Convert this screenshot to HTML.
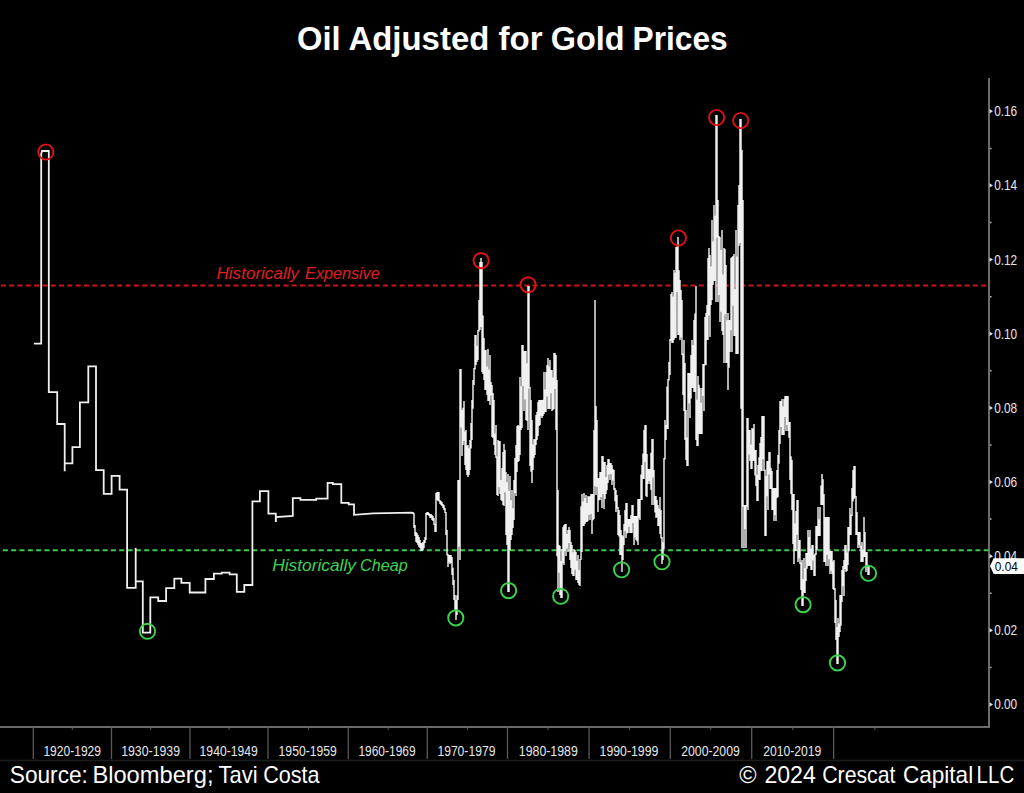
<!DOCTYPE html><html><head><meta charset="utf-8"><style>html,body{margin:0;padding:0;background:#000;width:1024px;height:793px;overflow:hidden}svg{display:block}text{font-family:"Liberation Sans",sans-serif}</style></head><body>
<svg width="1024" height="793" viewBox="0 0 1024 793">
<rect width="1024" height="793" fill="#000"/>
<text x="297.1" y="50.2" font-size="34" font-weight="bold" fill="#fff" textLength="43.6" lengthAdjust="spacingAndGlyphs">Oil</text>
<text x="348.5" y="50.2" font-size="34" font-weight="bold" fill="#fff" textLength="140.8" lengthAdjust="spacingAndGlyphs">Adjusted</text>
<text x="498.5" y="50.2" font-size="34" font-weight="bold" fill="#fff" textLength="44.0" lengthAdjust="spacingAndGlyphs">for</text>
<text x="550.7" y="50.2" font-size="34" font-weight="bold" fill="#fff" textLength="73.8" lengthAdjust="spacingAndGlyphs">Gold</text>
<text x="632.5" y="50.2" font-size="34" font-weight="bold" fill="#fff" textLength="95.2" lengthAdjust="spacingAndGlyphs">Prices</text>
<line x1="989" y1="78" x2="989" y2="727" stroke="#6a6a6a" stroke-width="2"/>
<line x1="0" y1="727" x2="990" y2="727" stroke="#6a6a6a" stroke-width="2"/>
<line x1="0" y1="760.5" x2="1024" y2="760.5" stroke="#1c1c1c" stroke-width="1.5"/>
<line x1="33.3" y1="727" x2="33.3" y2="759" stroke="#5a5a5a" stroke-width="1.3"/>
<line x1="111.5" y1="727" x2="111.5" y2="759" stroke="#5a5a5a" stroke-width="1.3"/>
<line x1="190" y1="727" x2="190" y2="759" stroke="#5a5a5a" stroke-width="1.3"/>
<line x1="268" y1="727" x2="268" y2="759" stroke="#5a5a5a" stroke-width="1.3"/>
<line x1="348.3" y1="727" x2="348.3" y2="759" stroke="#5a5a5a" stroke-width="1.3"/>
<line x1="427.3" y1="727" x2="427.3" y2="759" stroke="#5a5a5a" stroke-width="1.3"/>
<line x1="507.5" y1="727" x2="507.5" y2="759" stroke="#5a5a5a" stroke-width="1.3"/>
<line x1="589" y1="727" x2="589" y2="759" stroke="#5a5a5a" stroke-width="1.3"/>
<line x1="670.3" y1="727" x2="670.3" y2="759" stroke="#5a5a5a" stroke-width="1.3"/>
<line x1="751.7" y1="727" x2="751.7" y2="759" stroke="#5a5a5a" stroke-width="1.3"/>
<line x1="833.6" y1="727" x2="833.6" y2="759" stroke="#5a5a5a" stroke-width="1.3"/>
<line x1="72.3" y1="727" x2="72.3" y2="730" stroke="#5a5a5a" stroke-width="1"/>
<line x1="150.7" y1="727" x2="150.7" y2="730" stroke="#5a5a5a" stroke-width="1"/>
<line x1="229.1" y1="727" x2="229.1" y2="730" stroke="#5a5a5a" stroke-width="1"/>
<line x1="308.5" y1="727" x2="308.5" y2="730" stroke="#5a5a5a" stroke-width="1"/>
<line x1="388.2" y1="727" x2="388.2" y2="730" stroke="#5a5a5a" stroke-width="1"/>
<line x1="467.5" y1="727" x2="467.5" y2="730" stroke="#5a5a5a" stroke-width="1"/>
<line x1="548.1" y1="727" x2="548.1" y2="730" stroke="#5a5a5a" stroke-width="1"/>
<line x1="629.5" y1="727" x2="629.5" y2="730" stroke="#5a5a5a" stroke-width="1"/>
<line x1="710.8" y1="727" x2="710.8" y2="730" stroke="#5a5a5a" stroke-width="1"/>
<line x1="792.8" y1="727" x2="792.8" y2="730" stroke="#5a5a5a" stroke-width="1"/>
<line x1="874.8" y1="727" x2="874.8" y2="730" stroke="#5a5a5a" stroke-width="1"/>
<text x="43.4" y="756.2" font-size="14.2" fill="#e6e6e6" textLength="57.6" lengthAdjust="spacingAndGlyphs">1920-1929</text>
<text x="121.2" y="756.2" font-size="14.2" fill="#e6e6e6" textLength="58.8" lengthAdjust="spacingAndGlyphs">1930-1939</text>
<text x="199.6" y="756.2" font-size="14.2" fill="#e6e6e6" textLength="58.2" lengthAdjust="spacingAndGlyphs">1940-1949</text>
<text x="278.6" y="756.2" font-size="14.2" fill="#e6e6e6" textLength="58.2" lengthAdjust="spacingAndGlyphs">1950-1959</text>
<text x="358.4" y="756.2" font-size="14.2" fill="#e6e6e6" textLength="57.2" lengthAdjust="spacingAndGlyphs">1960-1969</text>
<text x="437.4" y="756.2" font-size="14.2" fill="#e6e6e6" textLength="58.0" lengthAdjust="spacingAndGlyphs">1970-1979</text>
<text x="518.8" y="756.2" font-size="14.2" fill="#e6e6e6" textLength="59.0" lengthAdjust="spacingAndGlyphs">1980-1989</text>
<text x="599.6" y="756.2" font-size="14.2" fill="#e6e6e6" textLength="58.8" lengthAdjust="spacingAndGlyphs">1990-1999</text>
<text x="681.2" y="756.2" font-size="14.2" fill="#e6e6e6" textLength="58.6" lengthAdjust="spacingAndGlyphs">2000-2009</text>
<text x="763.2" y="756.2" font-size="14.2" fill="#e6e6e6" textLength="58.2" lengthAdjust="spacingAndGlyphs">2010-2019</text>
<path d="M989.5 702.3 L993 704.5 L989.5 706.7Z" fill="#ddd"/>
<text x="994.2" y="709.4" font-size="14.2" fill="#e6e6e6" textLength="23" lengthAdjust="spacingAndGlyphs">0.00</text>
<path d="M989.5 628.1 L993 630.4 L989.5 632.6Z" fill="#ddd"/>
<text x="994.2" y="635.2" font-size="14.2" fill="#e6e6e6" textLength="23" lengthAdjust="spacingAndGlyphs">0.02</text>
<path d="M989.5 554.0 L993 556.2 L989.5 558.4Z" fill="#ddd"/>
<text x="994.2" y="561.1" font-size="14.2" fill="#e6e6e6" textLength="23" lengthAdjust="spacingAndGlyphs">0.04</text>
<path d="M989.5 479.9 L993 482.1 L989.5 484.2Z" fill="#ddd"/>
<text x="994.2" y="486.9" font-size="14.2" fill="#e6e6e6" textLength="23" lengthAdjust="spacingAndGlyphs">0.06</text>
<path d="M989.5 405.7 L993 407.9 L989.5 410.1Z" fill="#ddd"/>
<text x="994.2" y="412.8" font-size="14.2" fill="#e6e6e6" textLength="23" lengthAdjust="spacingAndGlyphs">0.08</text>
<path d="M989.5 331.6 L993 333.8 L989.5 335.9Z" fill="#ddd"/>
<text x="994.2" y="338.6" font-size="14.2" fill="#e6e6e6" textLength="23" lengthAdjust="spacingAndGlyphs">0.10</text>
<path d="M989.5 257.4 L993 259.6 L989.5 261.8Z" fill="#ddd"/>
<text x="994.2" y="264.5" font-size="14.2" fill="#e6e6e6" textLength="23" lengthAdjust="spacingAndGlyphs">0.12</text>
<path d="M989.5 183.2 L993 185.4 L989.5 187.6Z" fill="#ddd"/>
<text x="994.2" y="190.3" font-size="14.2" fill="#e6e6e6" textLength="23" lengthAdjust="spacingAndGlyphs">0.14</text>
<path d="M989.5 109.1 L993 111.3 L989.5 113.5Z" fill="#ddd"/>
<text x="994.2" y="116.2" font-size="14.2" fill="#e6e6e6" textLength="23" lengthAdjust="spacingAndGlyphs">0.16</text>
<line x1="990" y1="667.4" x2="991.5" y2="667.4" stroke="#bbb" stroke-width="1.5"/>
<line x1="990" y1="593.3" x2="991.5" y2="593.3" stroke="#bbb" stroke-width="1.5"/>
<line x1="990" y1="519.1" x2="991.5" y2="519.1" stroke="#bbb" stroke-width="1.5"/>
<line x1="990" y1="445.0" x2="991.5" y2="445.0" stroke="#bbb" stroke-width="1.5"/>
<line x1="990" y1="370.8" x2="991.5" y2="370.8" stroke="#bbb" stroke-width="1.5"/>
<line x1="990" y1="296.7" x2="991.5" y2="296.7" stroke="#bbb" stroke-width="1.5"/>
<line x1="990" y1="222.5" x2="991.5" y2="222.5" stroke="#bbb" stroke-width="1.5"/>
<line x1="990" y1="148.4" x2="991.5" y2="148.4" stroke="#bbb" stroke-width="1.5"/>
<line x1="0.9" y1="285.4" x2="987" y2="285.4" stroke="#cc1616" stroke-width="2" stroke-dasharray="5 3.308"/>
<line x1="2.9" y1="550.2" x2="989.5" y2="550.2" stroke="#3ec850" stroke-width="2" stroke-dasharray="5 3.312"/>
<text x="216.5" y="278.7" font-size="16.8" font-style="italic" fill="#e01e1e" textLength="82.5" lengthAdjust="spacingAndGlyphs">Historically</text>
<text x="305.1" y="278.7" font-size="16.8" font-style="italic" fill="#e01e1e" textLength="74.6" lengthAdjust="spacingAndGlyphs">Expensive</text>
<text x="272.2" y="570.6" font-size="16.8" font-style="italic" fill="#3ed250" textLength="83.8" lengthAdjust="spacingAndGlyphs">Historically</text>
<text x="360.1" y="570.6" font-size="16.8" font-style="italic" fill="#3ed250" textLength="47.6" lengthAdjust="spacingAndGlyphs">Cheap</text>
<path d="M33.9 343.6 L41.2 343.6 L41.2 154.0 L42.0 151.0 L48.8 151.0 L48.8 392.2 L57.2 392.2 L57.2 424.0 L64.7 424.0 L64.7 471.3 L64.7 463.4 L72.4 463.4 L72.4 447.1 L79.9 447.1 L79.9 402.4 L88.3 402.4 L88.3 366.3 L96.0 366.3 L96.0 470.2 L103.7 470.2 L103.7 493.8 L111.6 493.8 L111.6 475.9 L119.6 475.9 L119.6 489.6 L127.1 489.6 L127.1 587.8 L135.7 587.8 L135.7 548.1 L135.7 581.4 L142.8 581.4 L142.8 632.6 L150.3 632.6 L150.3 597.4 L158.2 597.4 L158.2 601.0 L166.1 601.0 L166.1 588.2 L174.3 588.2 L174.3 578.6 L181.4 578.6 L181.4 582.9 L189.7 582.9 L189.7 592.5 L205.4 592.5 L205.4 579.0 L213.9 579.0 L213.9 573.6 L221.8 573.6 L221.8 572.6 L229.6 572.6 L229.6 574.3 L236.8 574.3 L236.8 591.9 L244.3 591.9 L244.3 585.0 L252.4 585.0 L252.4 501.3 L259.9 501.3 L259.9 491.1 L268.4 491.1 L268.4 513.6 L275.8 513.6 L275.8 521.9 L276.0 517.1 L292.8 516.0 L292.8 498.1 L300.4 498.1 L300.4 499.9 L316.2 499.9 L316.2 498.6 L327.6 498.6 L327.6 482.8 L332.9 482.8 L332.9 484.1 L341.3 484.1 L341.3 502.9 L348.7 502.9 L348.7 504.3 L354.0 504.3 L354.0 514.8 L373.3 513.3 L412.0 512.7 L413.8 513.6" fill="none" stroke="#f0f0f0" stroke-width="1.8" stroke-linejoin="miter" stroke-miterlimit="2"/>
<path d="M413.0 512.0V514.0 M414.0 513.0V528.0 M415.0 525.0V536.1 M416.0 532.0V542.0 M417.0 533.0V543.0 M418.0 535.0V545.0 M419.0 537.0V547.0 M420.0 540.0V548.0 M421.0 543.0V551.0 M422.0 543.0V551.0 M423.0 542.0V550.0 M424.0 540.0V548.0 M425.0 537.0V543.0 M426.0 513.0V540.0 M427.0 512.0V515.0 M428.0 512.0V515.0 M429.0 513.0V516.0 M430.0 514.0V518.0 M431.0 514.0V518.0 M432.0 515.0V520.0 M433.0 516.0V521.0 M434.0 518.0V525.0 M435.0 523.5V532.0 M436.0 493.0V532.0 M437.0 492.0V500.0 M438.0 492.0V501.0 M439.0 492.0V501.5 M440.0 500.0V504.0 M441.0 501.0V505.0 M442.0 502.0V506.0 M443.0 504.0V508.0 M444.0 505.0V510.0 M445.0 508.0V513.0 M446.0 512.0V535.0 M447.0 530.0V555.5 M448.0 554.0V567.0 M449.0 555.0V562.5 M450.0 555.0V564.0 M451.0 555.0V563.0 M452.0 557.0V575.0 M453.0 567.7V585.0 M454.0 580.0V600.0 M455.0 595.0V609.8 M456.0 600.0V620.0 M457.0 595.3V615.0 M458.0 480.0V600.0 M459.0 480.0V546.7 M460.0 369.0V560.0 M461.0 369.0V427.4 M462.0 410.0V456.0 M463.0 407.8V445.0 M464.0 401.0V441.0 M465.0 431.4V465.0 M466.0 430.0V470.0 M467.0 445.8V475.0 M468.0 445.0V477.0 M469.0 448.3V475.0 M470.0 440.0V470.0 M471.0 423.0V448.4 M472.0 400.0V440.0 M473.0 380.0V408.7 M474.0 368.0V385.0 M475.0 335.0V369.5 M476.0 335.0V365.0 M477.0 345.7V362.0 M478.0 330.0V360.0 M479.0 300.0V331.5 M480.0 262.0V330.0 M481.0 258.0V327.1 M482.0 262.0V372.0 M483.0 315.6V374.0 M484.0 338.0V380.0 M485.0 350.1V390.0 M486.0 350.0V390.0 M487.0 366.6V395.0 M488.0 349.0V401.0 M489.0 369.6V401.0 M490.0 355.0V405.0 M491.0 382.0V395.6 M492.0 385.0V437.0 M493.0 393.0V438.0 M494.0 400.0V445.0 M495.0 433.5V455.0 M496.0 425.0V458.0 M497.0 456.5V495.0 M498.0 440.0V496.0 M499.0 441.0V487.3 M500.0 441.0V494.0 M501.0 479.9V500.0 M502.0 468.0V501.0 M503.0 452.0V505.0 M504.0 444.0V506.0 M505.0 450.0V492.2 M506.0 472.0V535.0 M507.0 482.3V545.0 M508.0 474.0V592.0 M509.0 490.8V592.0 M510.0 476.0V550.0 M511.0 500.3V540.0 M512.0 490.0V535.0 M513.0 508.3V528.0 M514.0 480.0V520.0 M515.0 458.0V493.0 M516.0 445.0V496.0 M517.0 426.0V472.1 M518.0 425.0V462.0 M519.0 425.8V461.0 M520.0 377.0V455.0 M521.0 386.2V430.0 M522.0 345.0V428.0 M523.0 345.0V385.9 M524.0 351.0V411.0 M525.0 351.0V399.4 M526.0 351.0V420.0 M527.0 363.2V421.0 M528.0 286.0V430.0 M529.0 286.0V388.5 M530.0 387.0V466.0 M531.0 400.0V471.8 M532.0 420.0V483.0 M533.0 444.4V470.0 M534.0 439.0V458.0 M535.0 439.3V455.0 M536.0 415.0V445.0 M537.0 412.1V440.0 M538.0 402.0V436.0 M539.0 400.0V426.1 M540.0 400.0V425.0 M541.0 400.0V416.3 M542.0 400.0V418.0 M543.0 399.8V416.0 M544.0 372.0V414.0 M545.0 389.4V412.0 M546.0 372.0V412.0 M547.0 365.0V396.5 M548.0 358.0V409.0 M549.0 366.4V409.0 M550.0 360.0V409.0 M551.0 370.0V393.3 M552.0 370.0V411.0 M553.0 377.5V410.0 M554.0 353.0V409.0 M555.0 353.0V388.9 M556.0 355.0V430.0 M557.0 380.0V556.2 M558.0 490.0V592.0 M559.0 545.0V572.8 M560.0 546.0V595.0 M561.0 561.1V598.0 M562.0 549.0V598.0 M563.0 527.0V563.3 M564.0 525.0V565.0 M565.0 524.0V550.9 M566.0 524.0V556.0 M567.0 534.0V548.6 M568.0 530.0V552.0 M569.0 527.0V542.9 M570.0 530.0V560.0 M571.0 542.0V568.0 M572.0 545.0V574.0 M573.0 552.3V576.0 M574.0 549.0V576.0 M575.0 550.0V569.7 M576.0 552.0V580.0 M577.0 560.8V580.0 M578.0 555.0V583.0 M579.0 569.9V585.0 M580.0 559.0V586.0 M581.0 506.3V560.0 M582.0 494.0V552.0 M583.0 501.4V526.0 M584.0 493.0V526.0 M585.0 498.0V524.0 M586.0 495.0V522.0 M587.0 503.1V522.0 M588.0 496.0V521.0 M589.0 497.0V514.8 M590.0 496.0V520.0 M591.0 494.0V514.0 M592.0 494.0V534.0 M593.0 494.0V520.3 M594.0 430.0V519.0 M595.0 300.0V486.3 M596.0 406.0V495.0 M597.0 420.0V487.0 M598.0 478.0V512.0 M599.0 478.0V500.3 M600.0 472.0V500.0 M601.0 472.0V497.0 M602.0 456.0V508.0 M603.0 456.0V494.0 M604.0 462.0V509.0 M605.0 462.0V499.1 M606.0 477.0V494.0 M607.0 465.0V490.3 M608.0 459.0V483.0 M609.0 459.0V474.4 M610.0 463.0V480.0 M611.0 463.0V473.9 M612.0 465.0V485.0 M613.0 469.0V480.8 M614.0 470.0V490.0 M615.0 488.0V501.2 M616.0 490.0V512.0 M617.0 495.0V508.5 M618.0 507.0V535.0 M619.0 510.0V536.4 M620.0 515.0V555.0 M621.0 530.0V555.1 M622.0 535.0V572.0 M623.0 536.2V560.0 M624.0 524.0V545.0 M625.0 510.0V530.9 M626.0 503.0V538.0 M627.0 503.0V533.5 M628.0 519.0V533.0 M629.0 519.0V526.7 M630.0 519.0V533.0 M631.0 514.9V533.0 M632.0 505.0V533.0 M633.0 505.0V523.0 M634.0 516.0V545.0 M635.0 516.0V537.6 M636.0 516.0V540.0 M637.0 516.0V541.2 M638.0 499.0V545.0 M639.0 499.0V517.7 M640.0 499.0V520.0 M641.0 474.4V500.0 M642.0 465.0V500.0 M643.0 453.4V479.0 M644.0 430.0V479.0 M645.0 425.0V462.0 M646.0 425.0V496.0 M647.0 454.0V497.0 M648.0 469.0V484.0 M649.0 469.0V480.9 M650.0 469.0V484.0 M651.0 452.7V490.0 M652.0 439.0V505.0 M653.0 439.0V477.5 M654.0 470.0V505.0 M655.0 496.0V512.4 M656.0 496.0V518.0 M657.0 500.0V517.3 M658.0 505.0V526.0 M659.0 508.6V526.0 M660.0 497.0V534.0 M661.0 510.0V538.5 M662.0 537.0V564.0 M663.0 542.2V560.0 M664.0 458.0V549.0 M665.0 420.0V459.5 M666.0 425.0V440.0 M667.0 386.4V429.0 M668.0 379.0V429.0 M669.0 362.0V380.5 M670.0 339.0V375.0 M671.0 294.0V340.9 M672.0 292.0V343.0 M673.0 296.4V343.0 M674.0 270.0V340.0 M675.0 272.7V338.0 M676.0 247.0V338.0 M677.0 246.6V292.0 M678.0 237.0V335.0 M679.0 270.3V335.0 M680.0 280.0V340.0 M681.0 290.0V337.4 M682.0 300.0V355.0 M683.0 353.5V395.0 M684.0 340.0V411.0 M685.0 363.1V440.0 M686.0 410.0V460.0 M687.0 437.5V466.0 M688.0 373.0V466.0 M689.0 373.0V403.6 M690.0 373.0V418.0 M691.0 355.0V398.6 M692.0 340.0V388.0 M693.0 345.1V388.0 M694.0 320.0V392.0 M695.0 313.5V392.0 M696.0 286.0V440.0 M697.0 399.7V446.0 M698.0 376.0V446.0 M699.0 384.7V434.0 M700.0 388.0V434.0 M701.0 402.7V434.0 M702.0 388.0V434.0 M703.0 364.0V395.9 M704.0 364.0V411.0 M705.0 317.0V365.5 M706.0 313.0V365.0 M707.0 305.0V340.0 M708.0 258.0V340.0 M709.0 248.0V315.5 M710.0 255.0V337.0 M711.0 266.5V305.0 M712.0 220.0V300.0 M713.0 241.4V285.0 M714.0 205.0V281.0 M715.0 215.8V281.0 M716.0 115.0V302.0 M717.0 115.0V237.7 M718.0 200.0V302.0 M719.0 236.0V294.9 M720.0 237.0V322.0 M721.0 250.0V311.7 M722.0 230.0V331.0 M723.0 274.4V335.0 M724.0 248.0V363.0 M725.0 249.0V314.4 M726.0 265.0V363.0 M727.0 320.3V363.0 M728.0 313.0V390.0 M729.0 320.0V367.7 M730.0 320.0V352.0 M731.0 258.0V330.2 M732.0 257.0V352.0 M733.0 256.0V305.7 M734.0 254.0V336.0 M735.0 289.3V336.0 M736.0 230.0V354.0 M737.0 256.6V354.0 M738.0 205.0V354.0 M739.0 185.0V245.8 M740.0 119.0V243.0 M741.0 119.0V408.8 M742.0 150.0V548.0 M743.0 200.0V506.5 M744.0 505.0V548.0 M745.0 505.0V528.9 M746.0 505.0V548.0 M747.0 418.0V506.5 M748.0 418.0V510.0 M749.0 430.0V454.4 M750.0 430.0V461.0 M751.0 444.4V469.0 M752.0 428.0V469.0 M753.0 428.8V461.0 M754.0 424.0V461.0 M755.0 450.0V475.5 M756.0 450.0V486.0 M757.0 474.7V501.0 M758.0 465.0V501.0 M759.0 457.2V480.0 M760.0 443.0V480.0 M761.0 436.9V471.0 M762.0 416.0V471.0 M763.0 416.0V459.1 M764.0 416.0V471.0 M765.0 469.5V536.0 M766.0 476.0V536.0 M767.0 461.0V496.2 M768.0 461.0V510.0 M769.0 452.0V474.4 M770.0 452.0V489.0 M771.0 467.9V489.0 M772.0 471.0V510.0 M773.0 487.9V510.0 M774.0 488.0V521.0 M775.0 488.0V515.1 M776.0 488.0V521.0 M777.0 470.0V497.9 M778.0 455.0V497.0 M779.0 430.0V463.8 M780.0 401.0V444.0 M781.0 401.0V427.0 M782.0 399.0V435.0 M783.0 406.5V435.0 M784.0 399.0V435.0 M785.0 396.0V417.1 M786.0 396.0V431.0 M787.0 396.0V424.9 M788.0 396.0V431.0 M789.0 422.0V437.7 M790.0 422.0V480.0 M791.0 456.2V494.0 M792.0 460.0V510.0 M793.0 494.0V543.9 M794.0 494.0V564.0 M795.0 523.5V551.0 M796.0 511.0V551.0 M797.0 500.0V534.8 M798.0 500.0V562.0 M799.0 540.0V558.2 M800.0 540.0V564.0 M801.0 562.5V590.0 M802.0 560.0V606.0 M803.0 579.0V606.0 M804.0 558.0V593.0 M805.0 568.1V593.0 M806.0 553.0V581.0 M807.0 553.0V568.8 M808.0 530.0V566.0 M809.0 537.0V566.0 M810.0 530.0V566.0 M811.0 548.6V570.0 M812.0 545.0V570.0 M813.0 545.0V560.4 M814.0 555.0V576.0 M815.0 553.5V576.0 M816.0 526.0V555.0 M817.0 526.0V550.2 M818.0 507.0V536.0 M819.0 519.3V536.0 M820.0 507.0V536.0 M821.0 485.6V505.0 M822.0 474.0V505.0 M823.0 479.2V505.0 M824.0 494.0V562.0 M825.0 517.2V562.0 M826.0 517.0V566.0 M827.0 517.0V555.0 M828.0 517.0V566.0 M829.0 517.0V559.3 M830.0 551.0V574.0 M831.0 551.0V570.7 M832.0 551.0V574.0 M833.0 561.4V589.0 M834.0 560.0V590.0 M835.0 588.0V623.0 M836.0 600.0V640.0 M837.0 627.1V664.0 M838.0 618.0V664.0 M839.0 623.4V637.0 M840.0 595.0V632.0 M841.0 595.0V625.7 M842.0 570.0V602.0 M843.0 566.0V586.3 M844.0 560.0V596.0 M845.0 545.0V569.1 M846.0 545.0V572.0 M847.0 552.4V571.0 M848.0 527.0V565.0 M849.0 527.0V551.3 M850.0 508.0V535.0 M851.0 514.5V535.0 M852.0 488.0V516.0 M853.0 470.0V501.6 M854.0 466.0V499.0 M855.0 466.0V497.5 M856.0 496.0V535.0 M857.0 512.0V535.0 M858.0 532.0V548.0 M859.0 532.0V545.1 M860.0 532.0V548.0 M861.0 545.8V562.0 M862.0 542.0V562.0 M863.0 549.8V562.0 M864.0 517.0V557.0 M865.0 532.1V557.0 M866.0 552.0V572.0 M867.0 552.0V567.2 M868.0 565.0V575.0 M869.0 565.0V575.0" fill="none" stroke="#f0f0f0" stroke-width="1.45"/>
<circle cx="45.8" cy="152" r="7.6" fill="none" stroke="#e01212" stroke-width="1.9"/>
<circle cx="481.1" cy="260.6" r="7.6" fill="none" stroke="#e01212" stroke-width="1.9"/>
<circle cx="528.1" cy="284.8" r="7.6" fill="none" stroke="#e01212" stroke-width="1.9"/>
<circle cx="678.4" cy="238" r="7.6" fill="none" stroke="#e01212" stroke-width="1.9"/>
<circle cx="716.6" cy="117.5" r="7.6" fill="none" stroke="#e01212" stroke-width="1.9"/>
<circle cx="740.7" cy="120.5" r="7.6" fill="none" stroke="#e01212" stroke-width="1.9"/>
<circle cx="147.5" cy="631.3" r="7.6" fill="none" stroke="#3cd24e" stroke-width="1.9"/>
<circle cx="455.8" cy="617.9" r="7.6" fill="none" stroke="#3cd24e" stroke-width="1.9"/>
<circle cx="508.6" cy="590.6" r="7.6" fill="none" stroke="#3cd24e" stroke-width="1.9"/>
<circle cx="560.7" cy="596.3" r="7.6" fill="none" stroke="#3cd24e" stroke-width="1.9"/>
<circle cx="621.6" cy="569.8" r="7.6" fill="none" stroke="#3cd24e" stroke-width="1.9"/>
<circle cx="662" cy="561.8" r="7.6" fill="none" stroke="#3cd24e" stroke-width="1.9"/>
<circle cx="803.1" cy="604.6" r="7.6" fill="none" stroke="#3cd24e" stroke-width="1.9"/>
<circle cx="837.5" cy="662.9" r="7.6" fill="none" stroke="#3cd24e" stroke-width="1.9"/>
<circle cx="868.5" cy="573.3" r="7.6" fill="none" stroke="#3cd24e" stroke-width="1.9"/>
<path d="M990 566 L993.7 558.2 L1024 558.2 L1024 574 L993.7 574 Z" fill="#fff"/>
<text x="994.8" y="571.4" font-size="13.6" fill="#000" textLength="23" lengthAdjust="spacingAndGlyphs">0.04</text>
<text x="9.8" y="782.5" font-size="23.2" fill="#fff" textLength="78.1" lengthAdjust="spacingAndGlyphs">Source:</text>
<text x="92.4" y="782.5" font-size="23.2" fill="#fff" textLength="121.1" lengthAdjust="spacingAndGlyphs">Bloomberg;</text>
<text x="218.5" y="782.5" font-size="23.2" fill="#fff" textLength="39.1" lengthAdjust="spacingAndGlyphs">Tavi</text>
<text x="263.2" y="782.5" font-size="23.2" fill="#fff" textLength="56.4" lengthAdjust="spacingAndGlyphs">Costa</text>
<text x="739.3" y="782.5" font-size="23.2" fill="#fff" textLength="17.3" lengthAdjust="spacingAndGlyphs">©</text>
<text x="764.4" y="782.5" font-size="23.2" fill="#fff" textLength="51.4" lengthAdjust="spacingAndGlyphs">2024</text>
<text x="822.2" y="782.5" font-size="23.2" fill="#fff" textLength="73.3" lengthAdjust="spacingAndGlyphs">Crescat</text>
<text x="902.9" y="782.5" font-size="23.2" fill="#fff" textLength="70.3" lengthAdjust="spacingAndGlyphs">Capital</text>
<text x="976.6" y="782.5" font-size="23.2" fill="#fff" textLength="37.6" lengthAdjust="spacingAndGlyphs">LLC</text>
</svg></body></html>
